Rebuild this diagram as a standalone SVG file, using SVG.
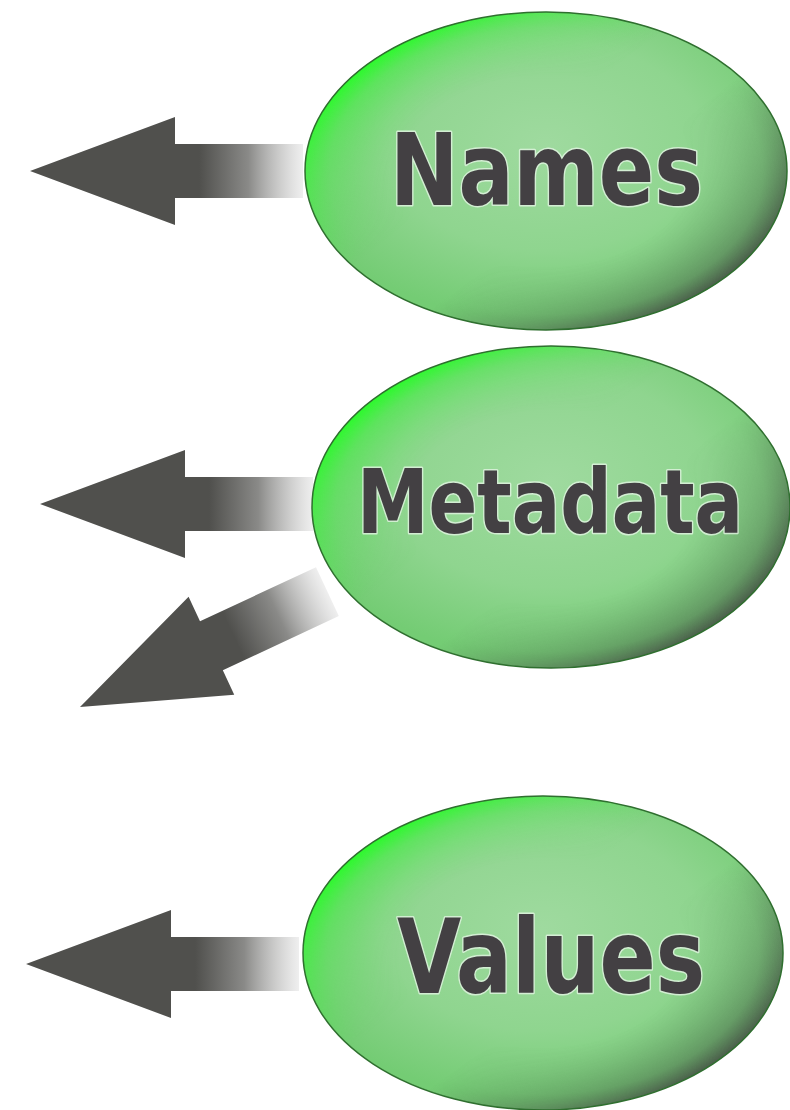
<svg xmlns="http://www.w3.org/2000/svg" xmlns:xlink="http://www.w3.org/1999/xlink" width="790" height="1110" viewBox="0 0 790 1110">
  <defs>
    <linearGradient id="arrowGrad" x1="0" y1="0" x2="1" y2="0">
      <stop offset="0" stop-color="#50504d"/>
      <stop offset="0.62" stop-color="#50504d"/>
      <stop offset="0.8" stop-color="#8a8a88"/>
      <stop offset="1" stop-color="#e4e4e4" stop-opacity="0.6"/>
    </linearGradient>
    <radialGradient id="base" cx="0.5" cy="0.42" r="0.55">
      <stop offset="0" stop-color="#9fda9f"/>
      <stop offset="0.6" stop-color="#8fd58f"/>
      <stop offset="1" stop-color="#74cc74"/>
    </radialGradient>
    <radialGradient id="edgeMaskGrad" cx="0.5" cy="0.5" r="0.5">
      <stop offset="0" stop-color="#000"/>
      <stop offset="0.6" stop-color="#000"/>
      <stop offset="0.9" stop-color="#888"/>
      <stop offset="1" stop-color="#fff"/>
    </radialGradient>
    <mask id="edgeMask" maskContentUnits="objectBoundingBox">
      <rect x="0" y="0" width="1" height="1" fill="url(#edgeMaskGrad)"/>
    </mask>
    <linearGradient id="shade" x1="0.1" y1="0.15" x2="0.9" y2="0.85">
      <stop offset="0" stop-color="#22ff22" stop-opacity="1"/>
      <stop offset="0.4" stop-color="#44ee44" stop-opacity="0"/>
      <stop offset="0.6" stop-color="#404040" stop-opacity="0"/>
      <stop offset="1" stop-color="#404040" stop-opacity="0.85"/>
    </linearGradient>
    <path id="arrowShape" d="M0,0 L145,-54 L145,-27 L273,-27 L273,27 L145,27 L145,54 Z"/>
  </defs>
  <style>
    .arrow { fill: url(#arrowGrad); }
    .b { fill: url(#base); }
    .s { fill: url(#shade); mask: url(#edgeMask); }
    .rim { fill: none; stroke: #2f6f2f; stroke-width: 1.5; }
    .label { font-family: "DejaVu Sans Condensed", "DejaVu Sans", sans-serif; font-weight: bold; fill: #434043; stroke: #e2f4e2; stroke-opacity: 0.8; stroke-width: 3; stroke-linejoin: round; paint-order: stroke; text-anchor: middle; }
  </style>
  <rect width="790" height="1110" fill="#ffffff"/>

  <g id="connectors">
    <use xlink:href="#arrowShape" class="arrow" transform="translate(30,171)"/>
    <use xlink:href="#arrowShape" class="arrow" transform="translate(40,504)"/>
    <use xlink:href="#arrowShape" class="arrow" transform="translate(80,707) rotate(-25)"/>
    <use xlink:href="#arrowShape" class="arrow" transform="translate(26,964)"/>
  </g>

  <g id="node-names">
    <ellipse class="b" cx="546" cy="171" rx="241" ry="159"/>
    <ellipse class="s" cx="546" cy="171" rx="241" ry="159"/>
    <ellipse class="rim" cx="546" cy="171" rx="241" ry="159"/>
    <text class="label" x="546.5" y="205" font-size="99" textLength="313" lengthAdjust="spacingAndGlyphs">Names</text>
  </g>

  <g id="node-metadata">
    <ellipse class="b" cx="551" cy="507" rx="239" ry="161"/>
    <ellipse class="s" cx="551" cy="507" rx="239" ry="161"/>
    <ellipse class="rim" cx="551" cy="507" rx="239" ry="161"/>
    <text class="label" x="550" y="533" font-size="89" textLength="386" lengthAdjust="spacingAndGlyphs">Metadata</text>
  </g>

  <g id="node-values">
    <ellipse class="b" cx="543" cy="953" rx="240" ry="157"/>
    <ellipse class="s" cx="543" cy="953" rx="240" ry="157"/>
    <ellipse class="rim" cx="543" cy="953" rx="240" ry="157"/>
    <text class="label" x="551" y="993" font-size="104" textLength="308" lengthAdjust="spacingAndGlyphs">Values</text>
  </g>
</svg>
